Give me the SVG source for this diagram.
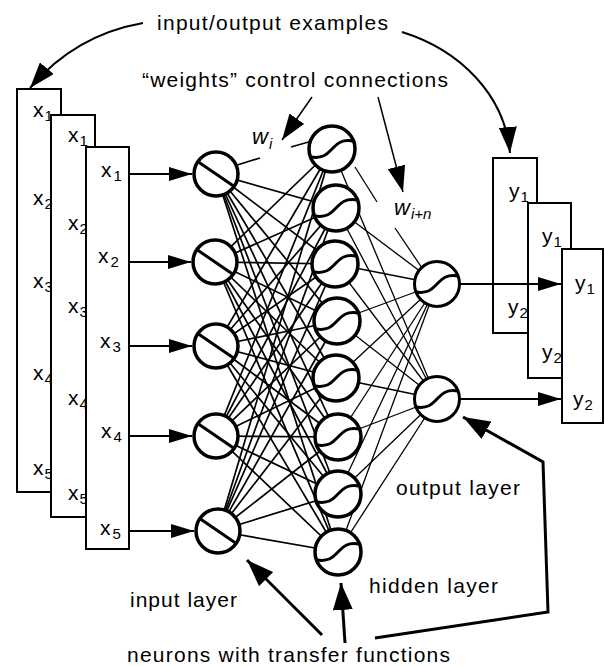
<svg xmlns="http://www.w3.org/2000/svg" width="605" height="666" viewBox="0 0 605 666">
  <defs>
    <style>
      text { font-family: "Liberation Sans", Arial, sans-serif; fill: #000; }
      .lbl { font-size: 21px; }
      .var { font-size: 21px; }
      .sub { font-size: 15px; }
      .w { font-size: 22px; font-style: italic; }
      .box { fill: #fff; stroke: #000; stroke-width: 2; }
      .neuron { fill: #fff; stroke: #000; stroke-width: 3.5; }
      .out { fill: #fff; stroke: #000; stroke-width: 3; }
      .glyph { fill: none; stroke: #000; stroke-width: 3; }
      .l1 line { stroke: #000; stroke-width: 1.7; }
      .l2 line { stroke: #000; stroke-width: 1.3; }
      .feed { stroke: #000; stroke-width: 2; marker-end: url(#head-s); }
      .note { fill: none; stroke: #000; stroke-width: 2; marker-end: url(#head); }
      .note-thin { fill: none; stroke: #000; stroke-width: 1.5; marker-end: url(#head); }
      .note-bold { fill: none; stroke: #000; stroke-width: 3; stroke-linejoin: miter; marker-end: url(#head-b); }
    </style>
    <marker id="head" markerUnits="userSpaceOnUse" viewBox="-26 -9 27 18" refX="0" refY="0" markerWidth="27" markerHeight="18" orient="auto">
      <path d="M0,0 L-26,-9 L-26,9 Z" fill="#000"/>
    </marker>
    <marker id="head-b" markerUnits="userSpaceOnUse" viewBox="-27 -10 28 20" refX="0" refY="0" markerWidth="28" markerHeight="20" orient="auto">
      <path d="M0,0 L-27,-10 L-27,10 Z" fill="#000"/>
    </marker>
    <marker id="head-s" markerUnits="userSpaceOnUse" viewBox="-23 -7 24 14" refX="0" refY="0" markerWidth="24" markerHeight="14" orient="auto">
      <path d="M0,0 L-23,-7 L-23,7 Z" fill="#000"/>
    </marker>
    <!-- linear (input) and sigmoid (hidden/output) transfer glyphs -->
    <line id="lin" x1="-19" y1="-13" x2="19" y2="13"/>
    <path id="sig" d="M-21,8 C-8,10 -4,4 0,0 S8,-10 21,-8"/>
  </defs>

  <rect width="605" height="666" fill="#fff"/>

  <!-- stacked input example sheets -->
  <g id="inputs-1">
    <rect class="box" x="17" y="89" width="44" height="403"/>
    <text class="var" x="33" y="117">x<tspan class="sub" dx="1" dy="4">1</tspan></text>
    <text class="var" x="33" y="205">x<tspan class="sub" dx="1" dy="4">2</tspan></text>
    <text class="var" x="33" y="288">x<tspan class="sub" dx="1" dy="4">3</tspan></text>
    <text class="var" x="33" y="380">x<tspan class="sub" dx="1" dy="4">4</tspan></text>
    <text class="var" x="33" y="475">x<tspan class="sub" dx="1" dy="4">5</tspan></text>
  </g>
  <g id="inputs-2">
    <rect class="box" x="51" y="115" width="44" height="402"/>
    <text class="var" x="68" y="142">x<tspan class="sub" dx="1" dy="4">1</tspan></text>
    <text class="var" x="68" y="230">x<tspan class="sub" dx="1" dy="4">2</tspan></text>
    <text class="var" x="68" y="313">x<tspan class="sub" dx="1" dy="4">3</tspan></text>
    <text class="var" x="68" y="405">x<tspan class="sub" dx="1" dy="4">4</tspan></text>
    <text class="var" x="68" y="500">x<tspan class="sub" dx="1" dy="4">5</tspan></text>
  </g>
  <g id="inputs-3">
    <rect class="box" x="86" y="147" width="43" height="402"/>
    <text class="var" x="101" y="177">x<tspan class="sub" dx="2" dy="4">1</tspan></text>
    <text class="var" x="98" y="263">x<tspan class="sub" dx="2" dy="4">2</tspan></text>
    <text class="var" x="100" y="348">x<tspan class="sub" dx="2" dy="4">3</tspan></text>
    <text class="var" x="101" y="438">x<tspan class="sub" dx="2" dy="4">4</tspan></text>
    <text class="var" x="100" y="535">x<tspan class="sub" dx="2" dy="4">5</tspan></text>
  </g>

  <!-- stacked output example sheets -->
  <g id="outputs-1">
    <rect class="box" x="493" y="158" width="44" height="175"/>
    <text class="var" x="509" y="198">y<tspan class="sub" dx="1" dy="4">1</tspan></text>
    <text class="var" x="508" y="314">y<tspan class="sub" dx="1" dy="4">2</tspan></text>
  </g>
  <g id="outputs-2">
    <rect class="box" x="528" y="203" width="43" height="175"/>
    <text class="var" x="542" y="243">y<tspan class="sub" dx="1" dy="4">1</tspan></text>
    <text class="var" x="542" y="359">y<tspan class="sub" dx="1" dy="4">2</tspan></text>
  </g>
  <g id="outputs-3">
    <rect class="box" x="562" y="249" width="41" height="174"/>
    <text class="var" x="575" y="290">y<tspan class="sub" dx="1" dy="4">1</tspan></text>
    <text class="var" x="573" y="406">y<tspan class="sub" dx="1" dy="4">2</tspan></text>
  </g>

  <g id="connectors">
    <!-- input layer to hidden layer -->
    <g class="l1">
      <line x1="234" y1="166" x2="260" y2="158"/>
      <line x1="291" y1="147" x2="312" y2="141"/>
      <line x1="216" y1="174" x2="336" y2="208"/>
      <line x1="216" y1="174" x2="335" y2="264"/>
      <line x1="216" y1="174" x2="337" y2="321"/>
      <line x1="216" y1="174" x2="336" y2="378"/>
      <line x1="216" y1="174" x2="338" y2="437"/>
      <line x1="216" y1="174" x2="338" y2="494"/>
      <line x1="216" y1="174" x2="338" y2="552"/>

      <line x1="215" y1="262" x2="332" y2="149"/>
      <line x1="215" y1="262" x2="336" y2="208"/>
      <line x1="215" y1="262" x2="335" y2="264"/>
      <line x1="215" y1="262" x2="337" y2="321"/>
      <line x1="215" y1="262" x2="336" y2="378"/>
      <line x1="215" y1="262" x2="338" y2="437"/>
      <line x1="215" y1="262" x2="338" y2="494"/>
      <line x1="215" y1="262" x2="338" y2="552"/>

      <line x1="216" y1="346" x2="332" y2="149"/>
      <line x1="216" y1="346" x2="336" y2="208"/>
      <line x1="216" y1="346" x2="335" y2="264"/>
      <line x1="216" y1="346" x2="337" y2="321"/>
      <line x1="216" y1="346" x2="336" y2="378"/>
      <line x1="216" y1="346" x2="338" y2="437"/>
      <line x1="216" y1="346" x2="338" y2="494"/>
      <line x1="216" y1="346" x2="338" y2="552"/>

      <line x1="216" y1="436" x2="332" y2="149"/>
      <line x1="216" y1="436" x2="336" y2="208"/>
      <line x1="216" y1="436" x2="335" y2="264"/>
      <line x1="216" y1="436" x2="337" y2="321"/>
      <line x1="216" y1="436" x2="336" y2="378"/>
      <line x1="216" y1="436" x2="338" y2="437"/>
      <line x1="216" y1="436" x2="338" y2="494"/>
      <line x1="216" y1="436" x2="338" y2="552"/>

      <line x1="218" y1="531" x2="332" y2="149"/>
      <line x1="218" y1="531" x2="336" y2="208"/>
      <line x1="218" y1="531" x2="335" y2="264"/>
      <line x1="218" y1="531" x2="337" y2="321"/>
      <line x1="218" y1="531" x2="336" y2="378"/>
      <line x1="218" y1="531" x2="338" y2="437"/>
      <line x1="218" y1="531" x2="338" y2="494"/>
      <line x1="218" y1="531" x2="338" y2="552"/>
    </g>
    <!-- hidden layer to output layer -->
    <g class="l2">
      <line x1="355" y1="167" x2="377" y2="202"/>
      <line x1="395" y1="228" x2="422" y2="268"/>
      <line x1="332" y1="149" x2="437" y2="399"/>
      <line x1="336" y1="208" x2="437" y2="284"/>
      <line x1="336" y1="208" x2="437" y2="399"/>
      <line x1="335" y1="264" x2="437" y2="284"/>
      <line x1="335" y1="264" x2="437" y2="399"/>
      <line x1="337" y1="321" x2="437" y2="284"/>
      <line x1="337" y1="321" x2="437" y2="399"/>
      <line x1="336" y1="378" x2="437" y2="284"/>
      <line x1="336" y1="378" x2="437" y2="399"/>
      <line x1="338" y1="437" x2="437" y2="284"/>
      <line x1="338" y1="437" x2="437" y2="399"/>
      <line x1="338" y1="494" x2="437" y2="284"/>
      <line x1="338" y1="494" x2="437" y2="399"/>
      <line x1="338" y1="552" x2="437" y2="284"/>
      <line x1="338" y1="552" x2="437" y2="399"/>
    </g>
    <!-- example values fed in and compared -->
    <line class="feed" x1="129" y1="174" x2="192" y2="174"/>
    <line class="feed" x1="129" y1="262" x2="191" y2="262"/>
    <line class="feed" x1="129" y1="346" x2="192" y2="346"/>
    <line class="feed" x1="129" y1="436" x2="192" y2="436"/>
    <line class="feed" x1="129" y1="531" x2="194" y2="531"/>
    <line class="feed" x1="460" y1="284" x2="561" y2="284"/>
    <line class="feed" x1="460" y1="399" x2="561" y2="399"/>
    <!-- annotation pointers -->
    <path class="note" d="M143,23 Q75,35 30,88"/>
    <path class="note" d="M402,32 C460,50 505,95 510,153"/>
    <path class="note-thin" d="M312,97 L282,140"/>
    <path class="note-thin" d="M378,97 L403,192"/>
    <path class="note-bold" d="M322,635 L247,560"/>
    <path class="note-bold" d="M345,643 L341,583"/>
    <path class="note-bold" d="M375,638 L548,612 L543,462 L463,417"/>
  </g>

  <!-- input layer: linear neurons -->
  <g id="in1"><circle class="neuron" cx="216" cy="174" r="22"/><use href="#lin" class="glyph" x="216" y="174"/></g>
  <g id="in2"><circle class="neuron" cx="215" cy="262" r="22"/><use href="#lin" class="glyph" x="215" y="262"/></g>
  <g id="in3"><circle class="neuron" cx="216" cy="346" r="22"/><use href="#lin" class="glyph" x="216" y="346"/></g>
  <g id="in4"><circle class="neuron" cx="216" cy="436" r="22"/><use href="#lin" class="glyph" x="216" y="436"/></g>
  <g id="in5"><circle class="neuron" cx="218" cy="531" r="22"/><use href="#lin" class="glyph" x="218" y="531"/></g>

  <!-- hidden layer: sigmoid neurons -->
  <g id="h1"><circle class="neuron" cx="332" cy="149" r="23"/><use href="#sig" class="glyph" x="332" y="149"/></g>
  <g id="h2"><circle class="neuron" cx="336" cy="208" r="23"/><use href="#sig" class="glyph" x="336" y="208"/></g>
  <g id="h3"><circle class="neuron" cx="335" cy="264" r="23"/><use href="#sig" class="glyph" x="335" y="264"/></g>
  <g id="h4"><circle class="neuron" cx="337" cy="321" r="23"/><use href="#sig" class="glyph" x="337" y="321"/></g>
  <g id="h5"><circle class="neuron" cx="336" cy="378" r="23"/><use href="#sig" class="glyph" x="336" y="378"/></g>
  <g id="h6"><circle class="neuron" cx="338" cy="437" r="23"/><use href="#sig" class="glyph" x="338" y="437"/></g>
  <g id="h7"><circle class="neuron" cx="338" cy="494" r="23"/><use href="#sig" class="glyph" x="338" y="494"/></g>
  <g id="h8"><circle class="neuron" cx="338" cy="552" r="23"/><use href="#sig" class="glyph" x="338" y="552"/></g>

  <!-- output layer -->
  <g id="o1"><circle class="out" cx="437" cy="284" r="22.5"/><use href="#sig" class="glyph" x="437" y="284"/></g>
  <g id="o2"><circle class="out" cx="437" cy="399" r="22.5"/><use href="#sig" class="glyph" x="437" y="399"/></g>

  <!-- labels -->
  <g id="labels">
    <text class="lbl" x="157" y="30" textLength="231" lengthAdjust="spacing">input/output examples</text>
    <text class="lbl" x="142" y="87" textLength="306" lengthAdjust="spacing">“weights” control connections</text>
    <text class="w" x="252" y="144">w<tspan class="sub" dx="1" dy="5">i</tspan></text>
    <text class="w" x="394" y="215">w<tspan class="sub" dx="1" dy="4">i+n</tspan></text>
    <text class="lbl" x="396" y="495" textLength="124" lengthAdjust="spacing">output layer</text>
    <text class="lbl" x="369" y="593" textLength="129" lengthAdjust="spacing">hidden layer</text>
    <text class="lbl" x="130" y="607" textLength="107" lengthAdjust="spacing">input layer</text>
    <text class="lbl" x="127" y="662" textLength="323" lengthAdjust="spacing">neurons with transfer functions</text>
  </g>
</svg>
